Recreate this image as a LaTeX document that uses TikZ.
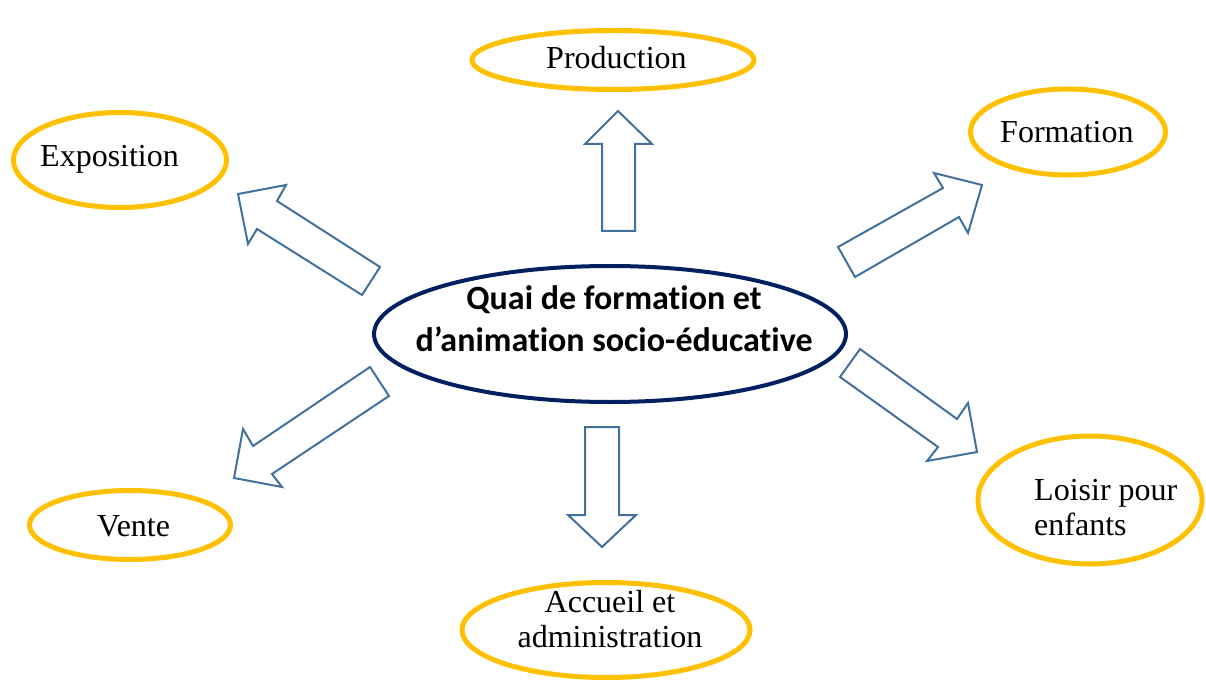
\documentclass[tikz,border=0pt]{standalone}
\usepackage{fontspec}
\setmainfont{Liberation Serif}
\newfontfamily\hubfont[Ligatures=NoCommon]{Carlito}
\usetikzlibrary{shapes.geometric}

\definecolor{ringgold}{HTML}{FFC000}
\definecolor{hubnavy}{HTML}{002060}
\definecolor{arrowblue}{HTML}{41719C}

\tikzset{
  ring/.style={draw=ringgold, line width=5pt, ellipse, inner sep=0pt},
  hubring/.style={draw=hubnavy, line width=4pt, ellipse, inner sep=0pt},
  lbl/.style={font=\fontsize{32}{35}\selectfont, inner sep=0pt},
  hublbl/.style={font=\hubfont\bfseries\fontsize{34}{42}\selectfont, align=center, inner sep=0pt},
  blockarrow/.style={draw=arrowblue, line width=2pt, fill=white, line join=miter}
}

\begin{document}
\begin{tikzpicture}[x=1pt, y=-1pt]
\useasboundingbox (0,0) rectangle (1206,684);

% centre
\node[hubring, minimum width=472, minimum height=136] (hub) at (610,334) {};
\node[hublbl, anchor=north] (hubtxt) at (614,285) {Quai de formation et\\d’animation socio-éducative};

% outer ellipses
\node[ring, minimum width=282, minimum height=59] (prod) at (613,60) {};
\node[ring, minimum width=195, minimum height=86] (form) at (1068,132) {};
\node[ring, minimum width=213, minimum height=95] (expo) at (120,160) {};
\node[ring, minimum width=201, minimum height=69] (vente) at (130,525) {};
\node[ring, minimum width=288, minimum height=95] (accueil) at (606,630) {};
\node[ring, minimum width=224, minimum height=128] (loisir) at (1090,500) {};

\node[lbl, anchor=base west] (prodtxt) at (546,69) {Production};
\node[lbl, anchor=base west] (formtxt) at (1000,143) {Formation};
\node[lbl, anchor=base west] (expotxt) at (40,167) {Exposition};
\node[lbl, anchor=base west] (ventetxt) at (97,536) {Vente};
\node[lbl, anchor=north, align=center] (accueiltxt) at (610,590) {Accueil et\\administration};
\node[lbl, anchor=north west, align=left] (loisirtxt) at (1034,479) {Loisir pour\\enfants};

% block arrows
\draw[blockarrow] (602,231) -- (602,144) -- (585,144) -- (618,111) -- (652,144) -- (635,144) -- (635,231) -- cycle;
\draw[blockarrow] (585,427) -- (619,427) -- (619,515) -- (636,515) -- (602,547) -- (568,515) -- (585,515) -- cycle;
\draw[blockarrow] (362,295) -- (257,229) -- (248,244) -- (238,194) -- (286,185) -- (277,201) -- (380,267) -- cycle;
\draw[blockarrow] (838,247) -- (943,188) -- (934,173) -- (982,185) -- (968,233) -- (959,217) -- (855,277) -- cycle;
\draw[blockarrow] (370,367) -- (253,446) -- (243,429) -- (234,478) -- (282,487) -- (272,474) -- (389,396) -- cycle;
\draw[blockarrow] (860,349) -- (957,419) -- (968,403) -- (977,452) -- (927,461) -- (938,447) -- (840,377) -- cycle;

\end{tikzpicture}
\end{document}
